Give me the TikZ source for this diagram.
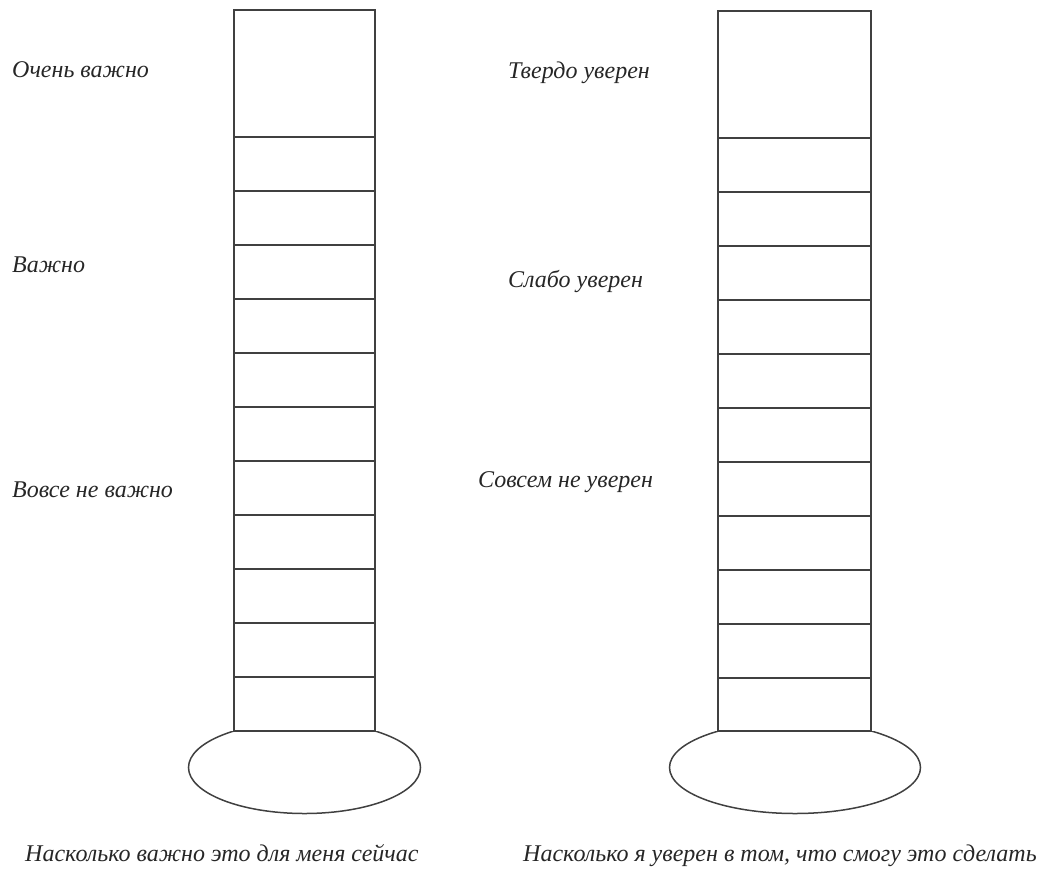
\documentclass[tikz,border=0pt]{standalone}
\usepackage{fontspec}
\setmainfont{Liberation Serif}
\begin{document}
\begin{tikzpicture}[x=1pt,y=-1pt,
  tube/.style={draw=black!75,line width=1.5pt},
  lbl/.style={anchor=base west,inner sep=0pt,font=\fontsize{24}{28}\selectfont\itshape,text=black!85}]
\useasboundingbox (0,0) rectangle (1053,871);
% left thermometer
\draw[tube] (234,10) rectangle (375,731);
\foreach \k in {0,...,10} \draw[tube] (234,{137+54*\k}) -- (375,{137+54*\k});
\begin{scope}
\clip (0,731) rectangle (1053,871);
\draw[tube] (304.5,767.5) ellipse [x radius=116pt, y radius=46pt];
\end{scope}
% right thermometer
\draw[tube] (718,11) rectangle (871,731);
\foreach \k in {0,...,10} \draw[tube] (718,{138+54*\k}) -- (871,{138+54*\k});
\begin{scope}
\clip (0,731) rectangle (1053,871);
\draw[tube] (795,767.5) ellipse [x radius=125.5pt, y radius=46pt];
\end{scope}
% labels
\node[lbl] (l1) at (12,77) {Очень важно};
\node[lbl] (l2) at (12,272) {Важно};
\node[lbl] (l3) at (12,497) {Вовсе не важно};
\node[lbl] (r1) at (508,78) {Твердо уверен};
\node[lbl] (r2) at (508,287) {Слабо уверен};
\node[lbl] (r3) at (478,487) {Совсем не уверен};
\node[lbl] (c1) at (25,861) {Насколько важно это для меня сейчас};
\node[lbl] (c2) at (523,861) {Насколько я уверен в том, что смогу это сделать};
\end{tikzpicture}
\end{document}
